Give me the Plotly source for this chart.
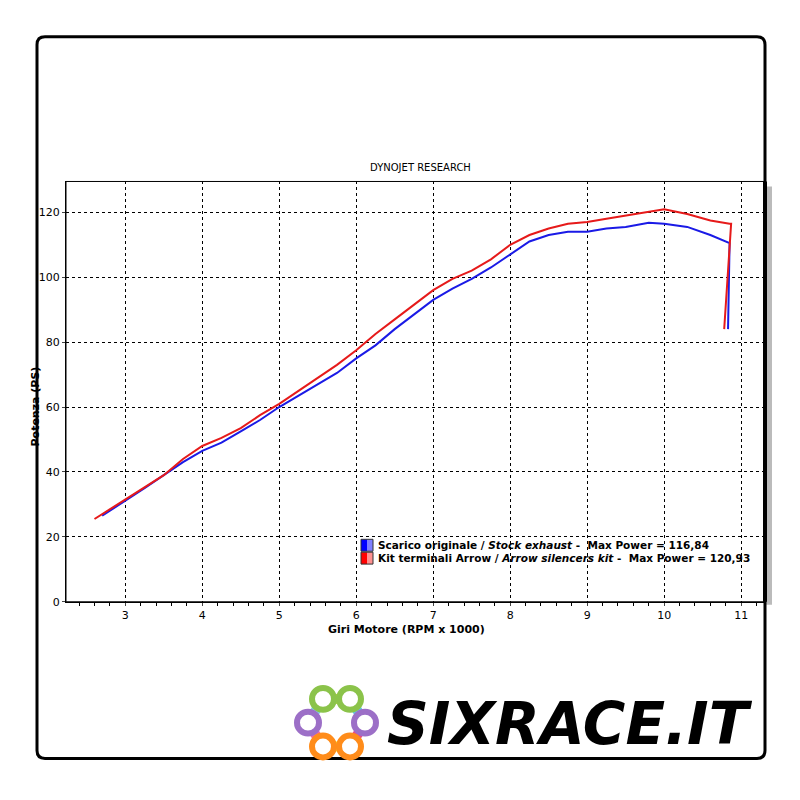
import plotly.graph_objects as go

stock_rpm = [2.7, 3.0, 3.25, 3.5, 3.75, 4.0, 4.25, 4.5, 4.75, 5.0, 5.25, 5.5, 5.75, 6.0, 6.25, 6.5, 6.75, 7.0, 7.25, 7.5, 7.75, 8.0, 8.25, 8.5, 8.75, 9.0, 9.25, 9.5, 9.8, 10.0, 10.3, 10.6, 10.85, 10.83]
stock_ps = [26.5, 31, 35, 39, 43, 46.5, 49, 52.5, 56, 60, 63.5, 67, 70.5, 75, 79, 84, 88.5, 93, 96.5, 99.5, 103, 107, 111, 113, 114, 114, 115, 115.5, 116.8, 116.5, 115.5, 113, 110.5, 84]
kit_rpm = [2.6, 3.0, 3.25, 3.5, 3.75, 4.0, 4.25, 4.5, 4.75, 5.0, 5.25, 5.5, 5.75, 6.0, 6.25, 6.5, 6.75, 7.0, 7.25, 7.5, 7.75, 8.0, 8.25, 8.5, 8.75, 9.0, 9.25, 9.5, 9.75, 10.0, 10.3, 10.6, 10.85, 10.87, 10.78]
kit_ps = [25.5, 31.5, 35.5, 39, 44, 48, 50.5, 53.5, 57.5, 61, 65, 69, 73, 77.5, 82.5, 87, 91.5, 96, 99.5, 102, 105.5, 110, 113, 115, 116.5, 117, 118, 119, 120, 120.9, 119.5, 117.5, 116.5, 116.5, 84]

fig = go.Figure()
fig.add_trace(go.Scatter(x=stock_rpm, y=stock_ps, mode="lines", line=dict(color="#1a1ae6", width=2)))
fig.add_trace(go.Scatter(x=kit_rpm, y=kit_ps, mode="lines", line=dict(color="#e61a1a", width=2)))

W = 800
OFF = 8
def px(v):
    return (v - OFF) / W
def py(v):
    return 1 - (v - OFF) / W

fig.update_layout(
    width=800, height=800, showlegend=False,
    paper_bgcolor="white", plot_bgcolor="white",
    margin=dict(l=0, r=0, t=0, b=0),
    font=dict(family="DejaVu Sans", color="black", size=11),
)
fig.update_xaxes(domain=[px(66), px(765)], range=[2.23, 11.31], dtick=1, tick0=3,
                 showgrid=True, gridcolor="black", griddash="dot", gridwidth=1,
                 showline=True, linecolor="black", linewidth=1, ticks="outside", ticklen=3,
                 minor=dict(dtick=0.2, ticks="outside", ticklen=3, tickcolor="black"),
                 zeroline=False, tickfont=dict(size=11))
fig.update_yaxes(domain=[py(607), py(183)], range=[0, 129.5], dtick=20,
                 showgrid=True, gridcolor="black", griddash="dot", gridwidth=1,
                 showline=True, linecolor="black", linewidth=1, ticks="outside", ticklen=3,
                 zeroline=False, tickfont=dict(size=11))

shapes = []
L, T, R, B, r = px(37), py(37), px(765), py(765), 8 / W
shapes.append(dict(type="path", xref="paper", yref="paper",
                   path=f"M {L+r} {T} L {R-r} {T} Q {R} {T} {R} {T-r} L {R} {B+r} Q {R} {B} {R-r} {B} "
                        f"L {L+r} {B} Q {L} {B} {L} {B+r} L {L} {T-r} Q {L} {T} {L+r} {T} Z",
                   line=dict(color="black", width=3)))
shapes.append(dict(type="rect", xref="paper", yref="paper", x0=px(766), x1=px(772), y0=py(610), y1=py(188),
                   fillcolor="#bbbbbb", line=dict(width=0), layer="below"))
shapes.append(dict(type="rect", xref="paper", yref="paper", x0=px(66), x1=px(765), y0=py(607), y1=py(183),
                   line=dict(color="black", width=1)))
shapes.append(dict(type="line", xref="paper", yref="paper", x0=px(765), x1=px(765), y0=py(607), y1=py(183),
                   line=dict(color="black", width=4)))
for yy, c1, c2 in [(550, "#0000ff", "#8080ff"), (563, "#ff0000", "#ff9090")]:
    shapes.append(dict(type="rect", xref="paper", yref="paper", x0=px(361), x1=px(367), y0=py(yy+6), y1=py(yy-6),
                       fillcolor=c1, line=dict(width=0)))
    shapes.append(dict(type="rect", xref="paper", yref="paper", x0=px(367), x1=px(373), y0=py(yy+6), y1=py(yy-6),
                       fillcolor=c2, line=dict(width=0)))
    shapes.append(dict(type="rect", xref="paper", yref="paper", x0=px(361), x1=px(373), y0=py(yy+6), y1=py(yy-6),
                       line=dict(color="#333", width=1)))
logo = [(323, 705, "#8bc34a"), (350, 705, "#8bc34a"), (308, 729, "#9c6fc7"), (365, 729, "#9c6fc7"),
        (323, 753, "#ff8c1a"), (350, 753, "#ff8c1a")]
links = [(323, 705, 350, 705, "#b5d334"), (350, 705, 365, 729, "#5ec5e6"), (365, 729, 350, 753, "#e64a8c"),
         (350, 753, 323, 753, "#f5e11a"), (323, 753, 308, 729, "#f06aa0"), (308, 729, 323, 705, "#7ecfe0")]
for x0, y0, x1, y1, c in links:
    shapes.append(dict(type="line", xref="paper", yref="paper", x0=px(x0), y0=py(y0), x1=px(x1), y1=py(y1),
                       line=dict(color=c, width=10)))
for x, y, c in logo:
    shapes.append(dict(type="circle", xref="paper", yref="paper", x0=px(x-11), x1=px(x+11), y0=py(y+11), y1=py(y-11),
                       fillcolor="white", line=dict(color=c, width=6)))
fig.update_layout(shapes=shapes)

ann = [
    dict(x=px(420), y=py(169), text="DYNOJET RESEARCH", font=dict(size=10)),
    dict(x=px(406), y=py(635), text="<b>Giri Motore (RPM x 1000)</b>", font=dict(size=11)),
    dict(x=px(35), y=py(410), text="<b>Potenza (PS)</b>", textangle=-90, font=dict(size=11)),
    dict(x=px(376), y=py(550), xanchor="left", text="<b>Scarico originale / <i>Stock exhaust</i> -  Max Power = 116,84</b>",
         font=dict(size=10.5)),
    dict(x=px(376), y=py(563), xanchor="left", text="<b>Kit terminali Arrow / <i>Arrow silencers kit</i> -  Max Power = 120,93</b>",
         font=dict(size=10.5)),
    dict(x=px(570), y=py(730), text="<b><i>SIXRACE.IT</i></b>",
         font=dict(size=58, family="DejaVu Sans", color="black")),
]
fig.update_layout(annotations=[dict(a, xref="paper", yref="paper", showarrow=False, yanchor="middle",
                                    xanchor=a.get("xanchor", "center")) for a in ann])
fig.write_html("out.html")
